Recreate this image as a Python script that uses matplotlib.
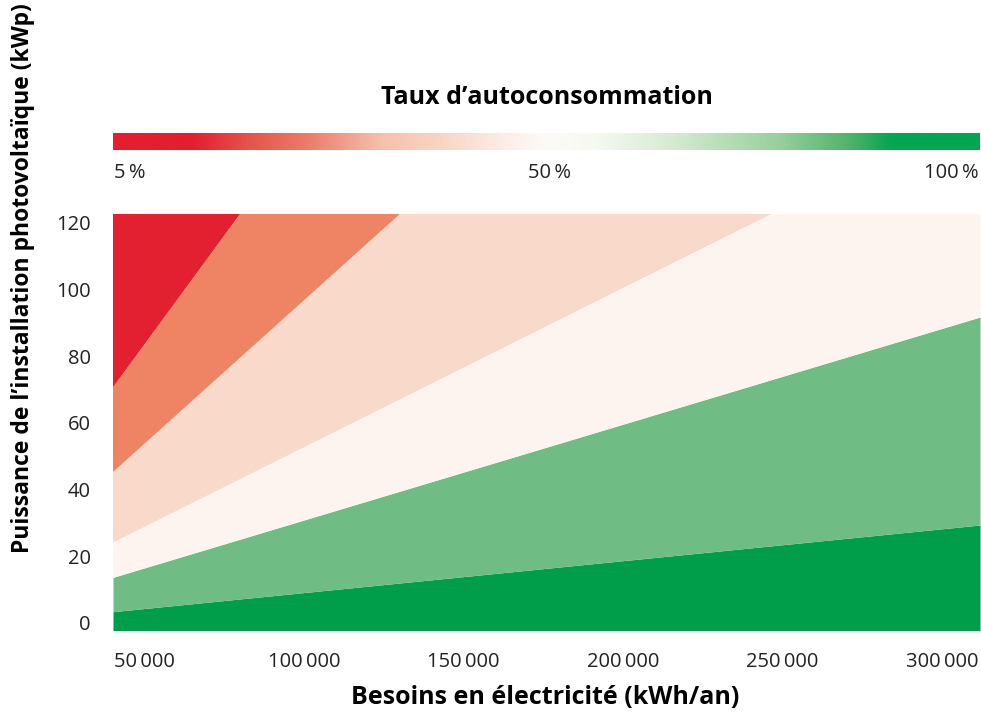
import numpy as np
import matplotlib.pyplot as plt
from matplotlib.colors import LinearSegmentedColormap

plt.rcParams['font.family'] = ['Open Sans', 'DejaVu Sans']

# Besoins en électricité (kWh/an) aux bords du graphique
besoins = [40000, 312000]

# Limites supérieures des zones (kWp) aux deux bords, de bas en haut
lim_vert_fonce = [3.4, 29.4]
lim_vert_clair = [13.7, 91.8]
lim_blanc = [24.1, 153.9]
lim_saumon_clair = [45.3, 279.2]
lim_saumon = [70.7, 425.7]
lim_rouge = [500.0, 500.0]

zones = [lim_vert_fonce, lim_vert_clair, lim_blanc, lim_saumon_clair, lim_saumon, lim_rouge]
couleurs = ["#009D4A", "#6FBD85", "#FDF3EF", "#F9D9CA", "#EF8465", "#E2202F"]

x_ticks = [50000, 100000, 150000, 200000, 250000, 300000]
y_ticks = [0, 20, 40, 60, 80, 100, 120]

# dégradé de la barre "Taux d'autoconsommation"
noeuds = [(0.0, "#E31E2F"), (0.09, "#E31E2F"), (0.15, "#E5504A"), (0.22, "#EB7A66"),
          (0.31, "#F5C1AC"), (0.38, "#F9D6C6"), (0.45, "#FCEDE5"), (0.5, "#FDFBF7"),
          (0.56, "#F5F9EF"), (0.65, "#D4EAD0"), (0.77, "#97CF9E"), (0.85, "#52B36A"),
          (0.9, "#00A651"), (1.0, "#00A651")]
cmap = LinearSegmentedColormap.from_list("autoconso", noeuds)

W, H = 981, 712
fig = plt.figure(figsize=(W / 100, H / 100), dpi=100)

def box(x0, y0, x1, y1):
    return [x0 / W, 1 - y1 / H, (x1 - x0) / W, (y1 - y0) / H]

# ---- graphique principal ----
ax = fig.add_axes(box(113, 214, 980, 630))
bas = [-10, -10]
for lim, c in zip(zones, couleurs):
    ax.fill_between(besoins, bas, lim, color=c, linewidth=0)
    bas = lim

ax.set_xlim(40000, 312000)
ax.set_ylim(-2.1, 122.7)
ax.set_xticks(x_ticks)
ax.set_xticklabels([f"{v:,}".replace(",", "\u2009") for v in x_ticks])
ax.set_yticks(y_ticks)
for s in ax.spines.values():
    s.set_visible(False)
ax.tick_params(length=0, labelsize=14.5, colors="#222222")
ax.tick_params(axis="x", pad=16)
ax.tick_params(axis="y", pad=16)

fig.text(545 / W, 1 - 697 / H, "Besoins en électricité (kWh/an)", ha="center", va="center",
         fontsize=18, fontweight="bold")
fig.text(23 / W, 1 - 278 / H, "Puissance de l\u2019installation photovoltaïque (kWp)",
         ha="center", va="center", rotation=90, fontsize=16.5, fontweight="bold")

# ---- barre de couleur ----
cax = fig.add_axes(box(113, 133, 980, 150))
cax.imshow(np.linspace(0, 1, 512)[None, :], aspect="auto", cmap=cmap, extent=[0, 1, 0, 1])
cax.set_axis_off()
fig.text(547 / W, 1 - 97 / H, "Taux d\u2019autoconsommation", ha="center", va="center",
         fontsize=18, fontweight="bold")
for pos, txt, ha in [(114, "5\u2009%", "left"), (550, "50\u2009%", "center"), (979, "100\u2009%", "right")]:
    fig.text(pos / W, 1 - 173 / H, txt, ha=ha, va="center", fontsize=14.5, color="#222222")

fig.savefig("out.png", dpi=100)
